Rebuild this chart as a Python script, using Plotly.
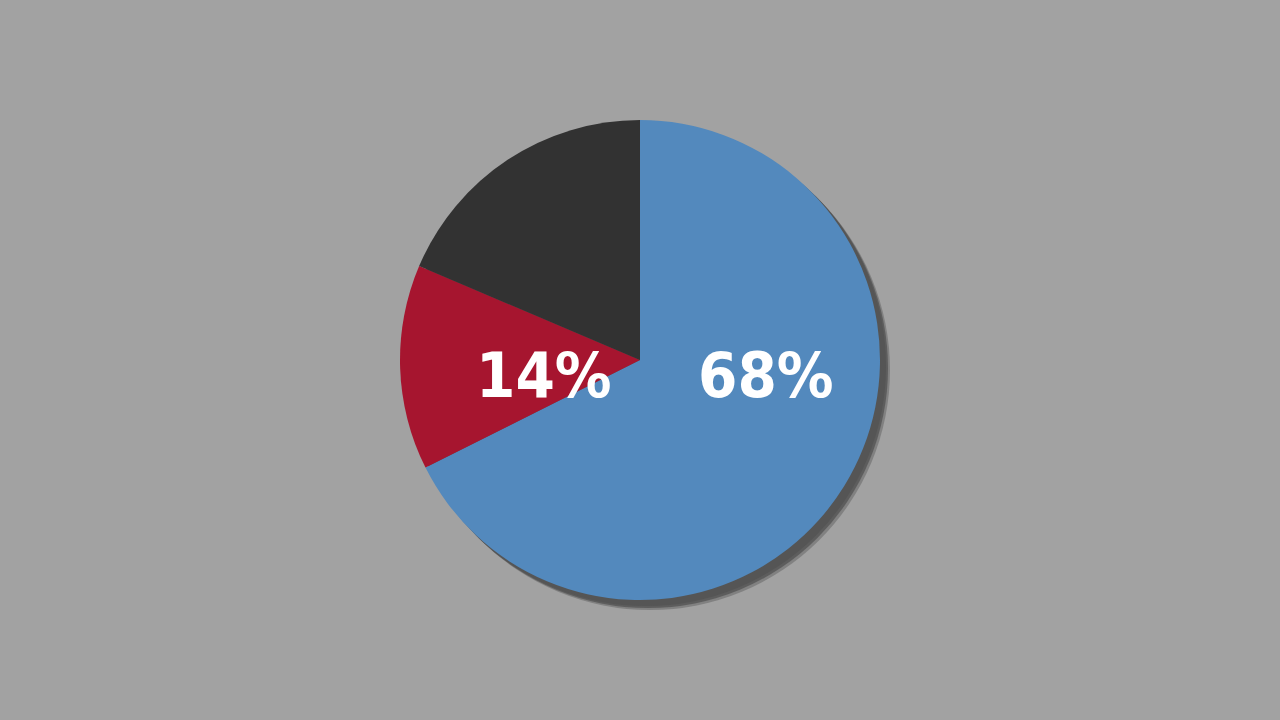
import plotly.graph_objects as go

categories = ["Blue", "Red", "Dark"]
values = [67.6, 13.8, 18.6]
colors = ["#5389BD", "#A6152F", "#323232"]
show_label = [True, True, False]

W, H = 1280, 720
cx, cy, r = 640, 360, 240

def dom(dx, dy):
    return dict(x=[(cx - r + dx) / W, (cx + r + dx) / W],
                y=[1 - (cy + r + dy) / H, 1 - (cy - r + dy) / H])

fig = go.Figure()
# soft shadow layers
for off, col in [(10, "rgba(70,70,70,0.35)"), (8, "rgba(70,70,70,0.6)"), (6, "#555555")]:
    fig.add_trace(go.Pie(values=[1], labels=["shadow"], marker=dict(colors=[col], line=dict(width=0)),
                         domain=dom(off, off), textinfo="none", hoverinfo="skip",
                         showlegend=False, sort=False))

fig.add_trace(go.Pie(values=values, labels=categories, marker=dict(colors=colors, line=dict(width=0)),
                     domain=dom(0, 0), sort=False, direction="clockwise", rotation=0,
                     textinfo="none", showlegend=False))

label_pos = {"Blue": (766, 375), "Red": (544, 375)}
for c, v, s in zip(categories, values, show_label):
    if not s:
        continue
    x, y = label_pos[c]
    fig.add_annotation(x=x / W, y=1 - y / H, xref="paper", yref="paper", text=f"{v:.0f}%",
                       showarrow=False, xanchor="center", yanchor="middle",
                       font=dict(family="DejaVu Sans Condensed", size=63,
                                 color="white", weight="bold"))

fig.update_layout(width=W, height=H, margin=dict(l=0, r=0, t=0, b=0),
                  paper_bgcolor="#A2A2A2", plot_bgcolor="#A2A2A2", showlegend=False)
fig.write_html("out.html", config={"displayModeBar": False},
               post_script="document.body.style.margin='0';document.body.style.background='#A2A2A2';")
